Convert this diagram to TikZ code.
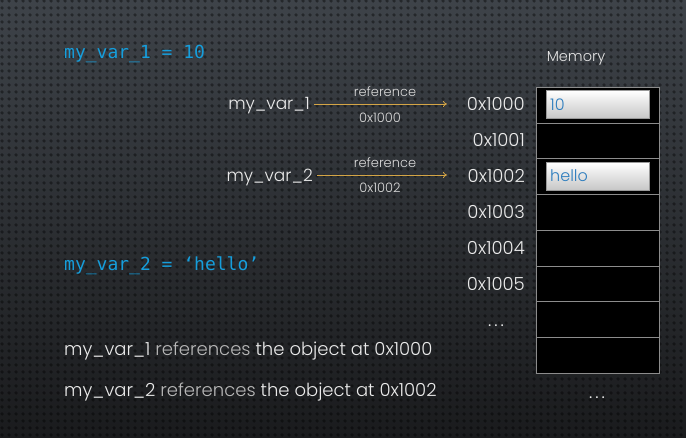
\documentclass[tikz,border=0pt]{standalone}
\usepackage{fontspec}
\setmainfont{Poppins Light}
\newfontfamily\codefont{DejaVu Sans Mono}
\usetikzlibrary{arrows.meta,patterns}
\definecolor{codeblue}{RGB}{22,158,220}
\definecolor{valblue}{RGB}{45,125,190}
\definecolor{refgold}{RGB}{212,165,70}
\definecolor{bgtop}{RGB}{62,67,73}
\definecolor{bgbot}{RGB}{26,27,29}
\definecolor{cellline}{RGB}{140,140,140}
\pgfdeclarepatternformonly{perforation}{\pgfpointorigin}{\pgfpoint{7pt}{7pt}}{\pgfpoint{7pt}{7pt}}{%
  \pgfpathcircle{\pgfpoint{3.5pt}{3.5pt}}{2.1pt}\pgfusepath{fill}}
\tikzset{
  code/.style={font=\codefont\fontsize{18}{20}\selectfont, text=codeblue, inner sep=0pt, anchor=base west},
  varlabel/.style={font=\fontsize{17}{20}\selectfont, text=white!92!black, inner sep=0pt, anchor=base east},
  addr/.style={font=\fontsize{18}{20}\selectfont, text=white!92!black, inner sep=0pt, anchor=base east},
  small/.style={font=\fontsize{13}{15}\selectfont, text=white!85!black, inner sep=0pt, anchor=base},
  prose/.style={font=\fontsize{18}{20}\selectfont, text=white!92!black, inner sep=0pt, anchor=base west},
  cell/.style={draw=cellline, line width=1pt, fill=black, minimum width=123pt, minimum height=35.75pt, inner sep=0pt, anchor=north west},
  valbox/.style={draw=gray!80, line width=0.8pt, top color=white, bottom color=gray!45, minimum width=103pt, minimum height=28pt, inner sep=0pt, anchor=north west},
  valtext/.style={font=\fontsize{16}{18}\selectfont, text=valblue, inner sep=0pt, anchor=base west},
  refarrow/.style={draw=refgold, line width=0.8pt, -{To[length=4pt,width=6pt]}},
}
\begin{document}
\begin{tikzpicture}[x=1pt,y=-1pt]
  \useasboundingbox (0,0) rectangle (686,438);
  % textured dark background
  \shade[top color=bgtop, bottom color=bgbot] (0,0) rectangle (686,438);
  \fill[pattern=perforation, pattern color=black, opacity=0.4] (0,0) rectangle (686,438);

  % assignments
  \node[code] (assign1) at (64,59) {my\_var\_1 = 10};
  \node[code] (assign2) at (64,271) {my\_var\_2 = ‘hello’};

  % memory column
  \node[font=\fontsize{14.5}{16}\selectfont, text=white!90!black, inner sep=0pt, anchor=base] (memlabel) at (576,62) {Memory};
  \foreach \i in {0,...,7} {
    \node[cell] (cell\i) at (536,{87+35.75*\i}) {};
  }
  \node[valbox] (box1) at (546,90) {};
  \node[valtext] (val1) at (550,111) {10};
  \node[valbox] (box2) at (546,162) {};
  \node[valtext] (val2) at (550,182) {hello};

  % addresses
  \node[addr] (a0) at (525,111) {0x1000};
  \node[addr] (a1) at (525,147) {0x1001};
  \node[addr] (a2) at (525,183) {0x1002};
  \node[addr] (a3) at (525,219) {0x1003};
  \node[addr] (a4) at (525,255) {0x1004};
  \node[addr] (a5) at (525,291) {0x1005};
  \node[addr, anchor=base] (adots) at (496,327) {.\,.\,.};
  \node[addr, anchor=base] (memdots) at (597,399) {.\,.\,.};

  % variables and their references
  \node[varlabel] (v1) at (310,110) {my\_var\_1};
  \node[varlabel] (v2) at (313,182) {my\_var\_2};
  \coordinate (t1) at (447,104);
  \coordinate (t2) at (447,175);
  \draw[refarrow] ([xshift=4pt]v1.east |- t1) -- (t1);
  \draw[refarrow] ([xshift=4pt]v2.east |- t2) -- (t2);
  \node[small] (r1) at (385,97) {reference};
  \node[small] (r1a) at (380,123) {0x1000};
  \node[small] (r2) at (385,168) {reference};
  \node[small] (r2a) at (380,193) {0x1002};

  % summary lines
  \node[prose] (s1) at (64,356) {my\_var\_1 \textcolor{white!72!black}{references} the object at 0x1000};
  \node[prose] (s2) at (64,397) {my\_var\_2 \textcolor{white!72!black}{references} the object at 0x1002};
\end{tikzpicture}
\end{document}
